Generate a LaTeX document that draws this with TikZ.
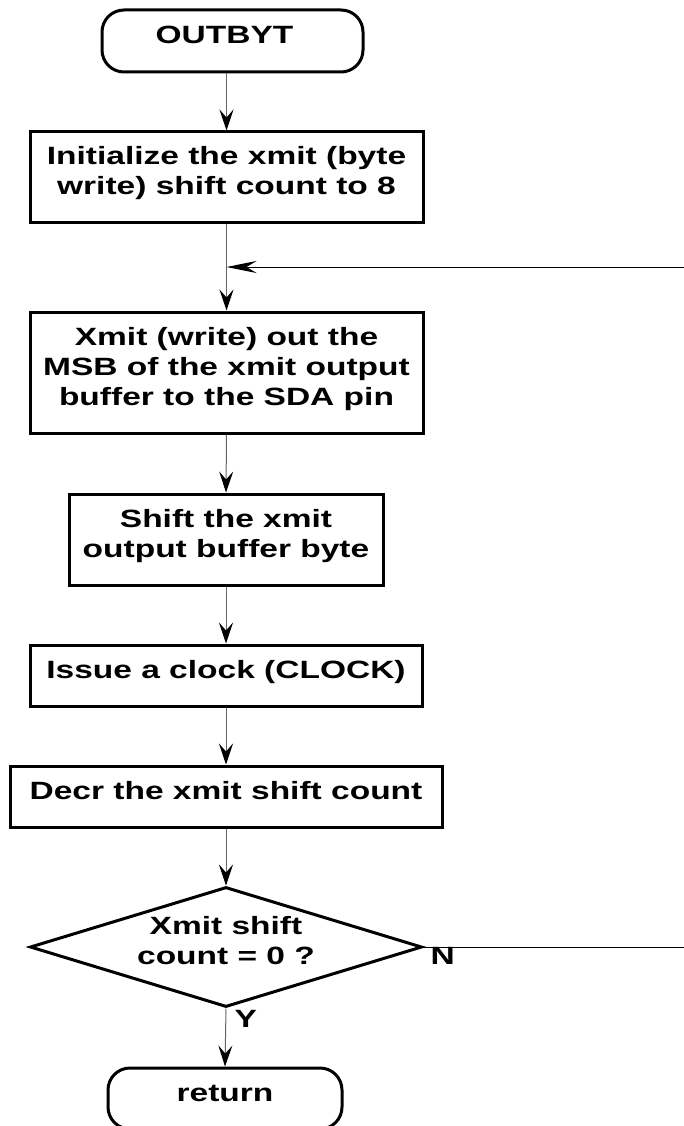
\documentclass[tikz,border=0pt]{standalone}
\usepackage{fontspec}
\setmainfont{Liberation Sans}[FakeStretch=1.34]
\usepackage{tikz}
\usetikzlibrary{arrows.meta, positioning, shapes.geometric}

\tikzset{
  txt/.style={font=\fontsize{25}{30}\selectfont\bfseries, align=center,
    execute at begin node={\rule{0pt}{18.75pt}},
    execute at end node={\rule[-12.75pt]{0pt}{12.75pt}}},
  block/.style={txt, draw, line width=3pt, rectangle, inner xsep=4pt, inner ysep=14.25pt},
  term/.style={block, rounded corners=22pt},
  decide/.style={txt, draw, line width=3pt, diamond, inner sep=0pt, aspect=3.27},
  flow/.style={draw=black!60, line width=1pt, -{Stealth[length=21pt, width=14pt, inset=8pt, color=black]}},
  back/.style={draw=black, line width=1pt, -{Stealth[length=30pt, width=12pt, inset=10pt, color=black]}},
  tag/.style={font=\fontsize{25}{30}\selectfont\bfseries, inner sep=0pt, anchor=north west}
}

\begin{document}
\begin{tikzpicture}[x=1pt, y=-1pt]
    \useasboundingbox (0,0) rectangle (683,1126);

    % Steps
    \node[term, minimum width=261pt, minimum height=62pt] (start) at (232.5,41) {OUTBYT\hspace*{16pt}};
    \node[block, minimum width=393pt, minimum height=90pt] (init) at (226.5,177)
        {Initialize the xmit (byte\\write) shift count to 8};
    \node[block, minimum width=393pt, minimum height=121pt] (xmit) at (226.5,372.5)
        {Xmit (write) out the\\MSB of the xmit output\\buffer to the SDA pin};
    \node[block, minimum width=314pt, minimum height=91pt] (shift) at (226,539.5)
        {Shift the xmit\\output buffer byte};
    \node[block, minimum width=392pt, minimum height=61pt] (clock) at (226,675.5)
        {Issue a clock (CLOCK)};
    \node[block, minimum width=432pt, minimum height=61pt] (decr) at (226,796.5)
        {Decr the xmit shift count};
    \node[decide, minimum width=392pt, minimum height=120pt] (done) at (226,947)
        {Xmit shift\\count = 0 ?};
    \node[term, minimum width=234pt, minimum height=61pt] (ret) at (225,1098.5) {return};

    % Join point and right rail of the loop
    \coordinate (join) at (226.5,267);
    \coordinate (rim) at (690,267);

    % Main flow
    \draw[flow] (start.south -| init.north) -- (init.north);
    \draw[flow] (init.south) -- (xmit.north);
    \draw[flow] (xmit.south) -- (shift.north);
    \draw[flow] (shift.south) -- (clock.north);
    \draw[flow] (clock.south) -- (decr.north);
    \draw[flow] (decr.south) -- (done.north);
    \draw[flow] (done.south) -- (ret.north)
        node[tag, at start, xshift=8pt, yshift=-1pt] (yes) {Y};

    % Loop back
    \draw[back] (done.east) -- (done.east -| rim) -- (rim) -- (join);
    \node[tag, xshift=7pt] (no) at (done.east) {N};
\end{tikzpicture}
\end{document}
